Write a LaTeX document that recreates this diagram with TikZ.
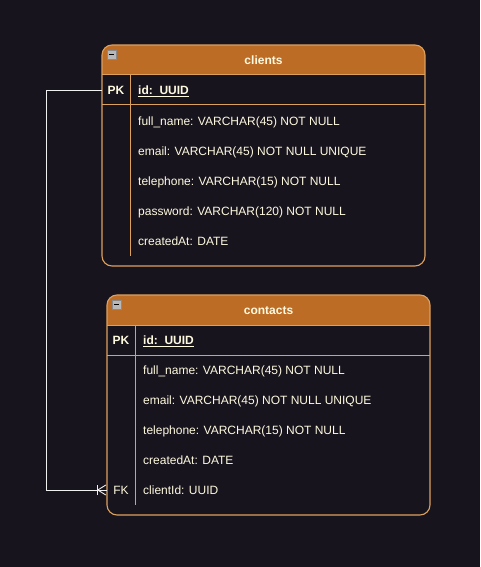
\documentclass[tikz,border=0pt]{standalone}
\usepackage{fontspec}
\setmainfont{Liberation Sans}
\definecolor{bg}{HTML}{18141D}
\definecolor{hdr}{HTML}{BC6C25}
\definecolor{brd}{HTML}{DDA15E}
\definecolor{txt}{HTML}{FEFAE0}
\definecolor{icon}{HTML}{B8B8B8}
\definecolor{iconb}{HTML}{8A8A8A}
\definecolor{conn}{HTML}{F0F0F0}
\begin{document}
\begin{tikzpicture}[x=1pt,y=-1pt,
  lbl/.style={text=txt,font=\fontsize{12}{14}\selectfont,inner sep=0pt,anchor=base west},
  keycell/.style={text=txt,font=\fontsize{12}{14}\selectfont\bfseries,inner sep=0pt,minimum height=30pt},
  ttl/.style={text=txt,font=\fontsize{12}{14}\selectfont\bfseries,inner sep=0pt,anchor=base},
  frame/.style={draw=brd,line width=1.1pt},
  sep/.style={draw=brd,line width=1pt},
  conline/.style={draw=conn,line width=0.9pt}]
\fill[bg] (0,0) rectangle (480,567);
\useasboundingbox (0,0) rectangle (480,567);

% ---------- clients ----------
\begin{scope}
\clip[rounded corners=10pt] (102,45) rectangle (425,266);
\fill[hdr] (102,45) rectangle (425,75);
\end{scope}
\path[sep] (102,75) -- (425,75);
\path[sep] (102,105) -- (425,105);
\path[sep] (130,75) -- (130,256);
\path[frame,rounded corners=10pt] (102,45) rectangle (425,266);
\draw[fill=icon,draw=iconb,line width=0.6pt] (107,50) rectangle (116,59);
\draw[black,line width=1.2pt] (109,54.5) -- (114,54.5);
\node[ttl] (ct) at (263.5,64.8) {clients};
\node[keycell,minimum width=28pt] (pkc) at (116,90) {PK};
\node[lbl,font=\fontsize{12}{14}\selectfont\bfseries] (c0) at (138,94.3) {\underline{id:\ \ UUID}};
\node[lbl] (c1) at (138,125.3) {full\_name: VARCHAR(45) NOT NULL};
\node[lbl] (c2) at (138,155.3) {email: VARCHAR(45) NOT NULL UNIQUE};
\node[lbl] (c3) at (138,185.3) {telephone: VARCHAR(15) NOT NULL};
\node[lbl] (c4) at (138,215.3) {password: VARCHAR(120) NOT NULL};
\node[lbl] (c5) at (138,245.3) {createdAt: DATE};

% ---------- contacts ----------
\begin{scope}
\clip[rounded corners=10pt] (107,295) rectangle (430,515);
\fill[hdr] (107,295) rectangle (430,325);
\end{scope}
\path[sep] (107,325) -- (430,325);
\path[sep] (107,355) -- (430,355);
\path[sep] (135,325) -- (135,505);
\path[frame,rounded corners=10pt] (107,295) rectangle (430,515);
\draw[fill=icon,draw=iconb,line width=0.6pt] (112,300) rectangle (121,309);
\draw[black,line width=1.2pt] (114,304.5) -- (119,304.5);
\node[ttl] (kt) at (268.5,314.8) {contacts};
\node[keycell,minimum width=28pt] (pkk) at (121,340) {PK};
\node[lbl,font=\fontsize{12}{14}\selectfont\bfseries] (k0) at (143,344.3) {\underline{id:\ \ UUID}};
\node[lbl] (k1) at (143,374.3) {full\_name: VARCHAR(45) NOT NULL};
\node[lbl] (k2) at (143,404.3) {email: VARCHAR(45) NOT NULL UNIQUE};
\node[lbl] (k3) at (143,434.3) {telephone: VARCHAR(15) NOT NULL};
\node[lbl] (k4) at (143,464.3) {createdAt: DATE};
\node[keycell,font=\fontsize{12}{14}\selectfont,minimum width=28pt] (fkk) at (121,490) {FK};
\node[lbl] (k5) at (143,494.3) {clientId: UUID};

% ---------- connector ----------
\path[conline] (pkc.west) -- ++(-55,0) |- (fkk.west);
\path[conline] (fkk.west) ++(-9,-5) -- ++(0,10);
\path[conline] (fkk.west) ++(-9,0) -- ++(8,-5);
\path[conline] (fkk.west) ++(-9,0) -- ++(8,5);
\end{tikzpicture}
\end{document}
